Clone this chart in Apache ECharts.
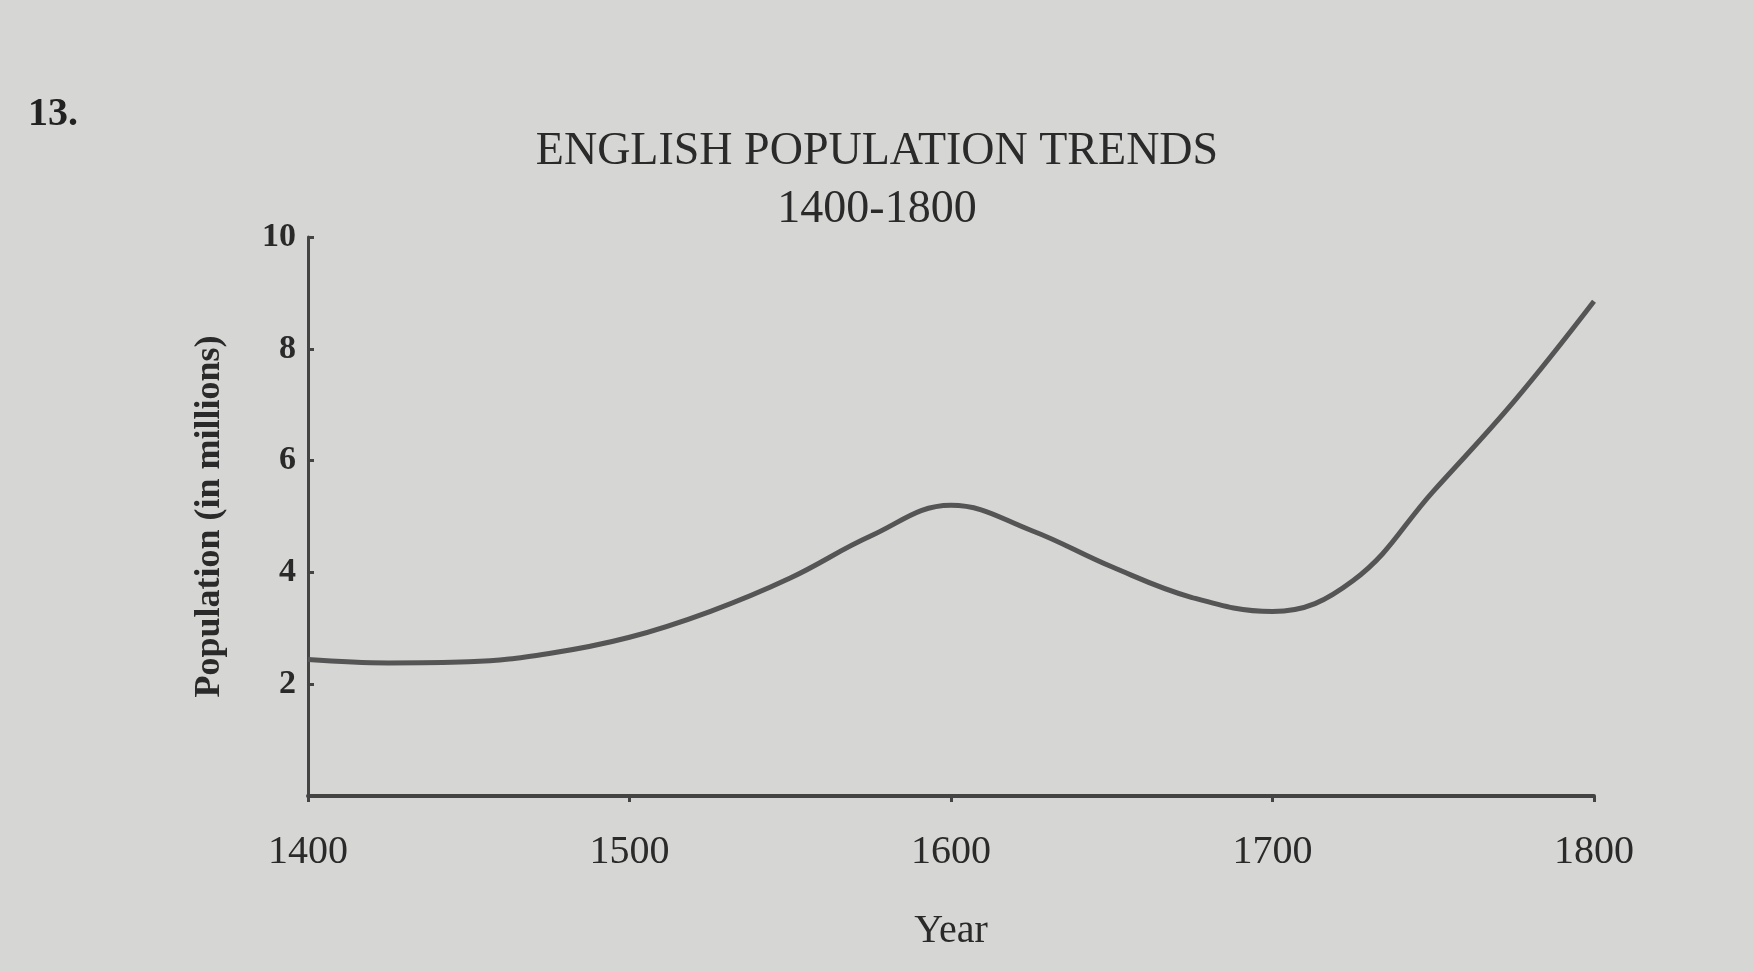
<!DOCTYPE html>
<html><head><meta charset="utf-8">
<script src="https://cdn.jsdelivr.net/npm/echarts@6/dist/echarts.min.js"></script>
<style>html,body{margin:0;padding:0;background:#d6d6d4}#c{width:1754px;height:972px}</style>
</head><body><div id="c"></div>
<script>
const years = [1400,1425,1450,1475,1500,1525,1550,1575,1600,1625,1650,1675,1700,1725,1750,1775,1800];
const population = [2.44,2.38,2.4,2.55,2.84,3.3,3.9,4.65,5.2,4.75,4.1,3.55,3.3,3.85,5.45,7.05,8.85];
const yTicks = [2,4,6,8,10];
const font = '"Liberation Serif", "DejaVu Serif", serif';
const chart = echarts.init(document.getElementById('c'));
chart.setOption({
  backgroundColor: '#d6d6d4',
  title: {text: 'ENGLISH POPULATION TRENDS\n1400-1800', left: 'center', top: 118,
    textStyle: {fontFamily: font, fontSize: 46, fontWeight: 'normal', color: '#2a2a2a', lineHeight: 58}},
  graphic: [{type: 'text', left: 28, top: 95, style: {text: '13.', font: 'bold 40px ' + font, fill: '#222'}}],
  grid: {left: 308, right: 160, top: 237, bottom: 176},
  xAxis: {type: 'value', min: 1400, max: 1800, interval: 100, name: 'Year', nameLocation: 'middle', nameGap: 115,
    nameTextStyle: {fontFamily: font, fontSize: 40, color: '#2a2a2a'},
    axisLine: {lineStyle: {color: '#444', width: 4}}, axisTick: {show: true, length: 6, lineStyle: {color: '#444', width: 3}},
    splitLine: {show: false},
    axisLabel: {fontFamily: font, fontSize: 40, color: '#2a2a2a', margin: 36, formatter: v => String(v)}},
  yAxis: {type: 'value', min: 0, max: 10, interval: 2, name: 'Population (in millions)', nameLocation: 'middle', nameGap: 80,
    nameTextStyle: {fontFamily: font, fontSize: 36, fontWeight: 'bold', color: '#2a2a2a'},
    axisLine: {show: true, lineStyle: {color: '#444', width: 3}}, axisTick: {show: true, length: 6, inside: true, lineStyle: {color: '#444', width: 3}},
    splitLine: {show: false},
    axisLabel: {fontFamily: font, fontSize: 34, fontWeight: 'bold', color: '#2a2a2a', margin: 12,
      formatter: v => yTicks.includes(v) ? String(v) : ''}},
  series: [{type: 'line', smooth: 0.4, symbol: 'none', data: years.map((y, i) => [y, population[i]]),
    lineStyle: {color: '#555', width: 5}}]
});
</script></body></html>
